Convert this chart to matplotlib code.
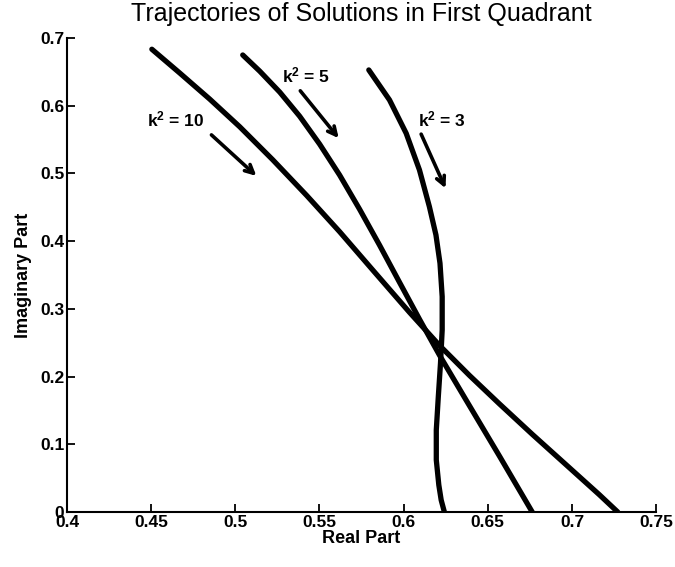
import matplotlib
matplotlib.use("Agg")
import matplotlib.pyplot as plt

plt.rcParams['font.family'] = ['Liberation Sans', 'DejaVu Sans']
plt.rcParams['mathtext.fontset'] = 'custom'
plt.rcParams['mathtext.rm'] = 'Liberation Sans:bold'
plt.rcParams['mathtext.default'] = 'rm'

# k^2 = 10 trajectory
k10_re = [0.4504, 0.4670, 0.4848, 0.5026, 0.5222, 0.5424, 0.5620, 0.5827, 0.6035,
          0.6213, 0.6391, 0.6569, 0.6764, 0.6966, 0.7162, 0.7272]
k10_im = [0.6834, 0.6482, 0.6097, 0.5689, 0.5202, 0.4674, 0.4138, 0.3543, 0.2948,
          0.2460, 0.2017, 0.1597, 0.1148, 0.0696, 0.0257, 0.0]

# k^2 = 5 trajectory
k5_re = [0.5044, 0.5145, 0.5264, 0.5382, 0.5501, 0.5620, 0.5738, 0.5857, 0.5975,
         0.6094, 0.6213, 0.6373, 0.6569, 0.6764]
k5_im = [0.6749, 0.6510, 0.6200, 0.5845, 0.5432, 0.4974, 0.4472, 0.3940, 0.3394,
         0.2847, 0.2316, 0.1645, 0.0827, 0.0]

# k^2 = 3 trajectory
k3_re = [0.5793, 0.5916, 0.6015, 0.6094, 0.6153, 0.6192, 0.6216, 0.6229, 0.6229,
         0.6219, 0.6206, 0.6194, 0.6194, 0.6209, 0.6223, 0.6242]
k3_im = [0.6528, 0.6085, 0.5593, 0.5051, 0.4509, 0.4091, 0.3673, 0.3180, 0.2688,
         0.2196, 0.1703, 0.1211, 0.0768, 0.0399, 0.0177, 0.0]

labels = ["k$^2$ = 10", "k$^2$ = 5", "k$^2$ = 3"]
label_pos = [(0.4647, 0.579), (0.5418, 0.644), (0.6225, 0.579)]
arrow_tail = [(0.4858, 0.5569), (0.5386, 0.622), (0.6104, 0.558)]
arrow_head = [(0.5125, 0.4963), (0.5614, 0.552), (0.6249, 0.478)]

xticks = [0.4, 0.45, 0.5, 0.55, 0.6, 0.65, 0.7, 0.75]
xticklabels = ["0.4", "0.45", "0.5", "0.55", "0.6", "0.65", "0.7", "0.75"]
yticks = [0, 0.1, 0.2, 0.3, 0.4, 0.5, 0.6, 0.7]
yticklabels = ["0", "0.1", "0.2", "0.3", "0.4", "0.5", "0.6", "0.7"]

fig = plt.figure(figsize=(6.75, 5.67), dpi=100)
ax = fig.add_axes([0.0993, 0.097, 0.8727, 0.836])

for xs, ys in [(k10_re, k10_im), (k5_re, k5_im), (k3_re, k3_im)]:
    ax.plot(xs, ys, color='black', lw=3.8, solid_capstyle='round', solid_joinstyle='round')

for lab, pos, t, h in zip(labels, label_pos, arrow_tail, arrow_head):
    ax.text(pos[0], pos[1], lab, ha='center', va='center', fontsize=12.5,
            fontweight='bold')
    ax.annotate('', xy=h, xytext=t,
                arrowprops=dict(arrowstyle='->,head_length=0.6,head_width=0.3',
                                lw=2.6, color='black', shrinkA=0, shrinkB=0))

ax.set_xlim(0.4, 0.75)
ax.set_ylim(0, 0.7)
ax.set_xticks(xticks)
ax.set_xticklabels(xticklabels)
ax.set_yticks(yticks)
ax.set_yticklabels(yticklabels)
for s in ['top', 'right']:
    ax.spines[s].set_visible(False)
for s in ['left', 'bottom']:
    ax.spines[s].set_linewidth(1.5)
ax.tick_params(direction='in', length=6, width=1.3, labelsize=12.5, pad=2)
for lab in ax.get_xticklabels() + ax.get_yticklabels():
    lab.set_fontweight('bold')

ax.set_xlabel('Real Part', fontsize=13, fontweight='bold', labelpad=0)
ax.set_ylabel('Imaginary Part', fontsize=13, fontweight='bold', labelpad=6)
ax.set_title('Trajectories of Solutions in First Quadrant', fontsize=18, pad=12)

fig.savefig('out.png', dpi=100)
